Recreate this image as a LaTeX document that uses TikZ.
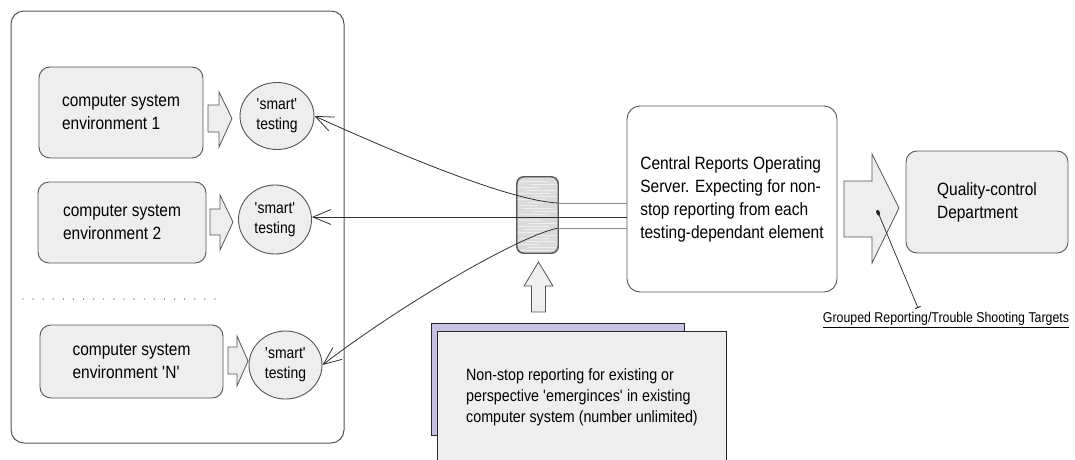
\documentclass[tikz,border=0pt]{standalone}
\usepackage{fontspec}
\setmainfont{Liberation Sans}[FakeStretch=0.87]
\usetikzlibrary{arrows.meta,shapes.geometric}
\definecolor{boxfill}{HTML}{EEEEEE}
\definecolor{edge}{HTML}{555555}
\definecolor{lav}{HTML}{C9C1E3}
\definecolor{hubfill}{HTML}{DADADA}
\definecolor{wire}{HTML}{303030}
\definecolor{busline}{HTML}{8C8C8C}

\tikzset{
  mainfont/.style={font=\fontsize{17.8}{23}\selectfont},
  envbox/.style={draw=edge, fill=boxfill, line width=0.9pt, rounded corners=11pt,
                 align=left, inner sep=0pt, mainfont},
  tester/.style={ellipse, draw=edge, fill=boxfill, line width=0.9pt, inner sep=0pt,
                 align=center, font=\fontsize{16}{20}\selectfont},
  blockarrow/.style={draw=edge, fill=boxfill, line width=0.8pt, line join=miter},
  wireline/.style={draw=wire, line width=0.8pt},
  barb/.style={-{Straight Barb[length=18pt,width=15pt,line width=0.8pt]}},
  busgray/.style={draw=busline, line width=1pt},
  paper/.style={draw=black!85, line width=0.9pt, inner sep=0pt}
}

\begin{document}
\begin{tikzpicture}[x=1pt,y=-1pt]
\useasboundingbox (0,0) rectangle (1075,459);
\clip (0,0) rectangle (1075,459);
\fill[white] (0,0) rectangle (1075,459);

% panel holding the tested environments
\draw[draw=edge, line width=1pt, rounded corners=13pt] (11,11) rectangle (344,443);

% computer system environments
\node[envbox, minimum width=164pt, minimum height=91pt] (env1) at (121,112.5)
  {computer system\\environment 1};
\node[envbox, minimum width=168pt, minimum height=81pt] (env2) at (122,222.5)
  {computer system\\environment 2};
\node[envbox, minimum width=183pt, minimum height=73pt] (envN) at (131.5,361.5)
  {computer system\\environment \textquotesingle N\textquotesingle};

% row of dots between environment 2 and environment N
\draw[line width=1.3pt, line cap=round, dash pattern=on 0pt off 10.1pt, draw=black!70]
  (23,299) -- (225,299);

% 'smart' testing units
\node[tester, minimum width=74pt, minimum height=67pt] (t1) at (277,116)
  {\textquotesingle smart\textquotesingle\\testing};
\node[tester, minimum width=73pt, minimum height=69pt] (t2) at (275,219.5)
  {\textquotesingle smart\textquotesingle\\testing};
\node[tester, minimum width=73pt, minimum height=68pt] (t3) at (285.5,365)
  {\textquotesingle smart\textquotesingle\\testing};

% block arrows from each environment to its tester
\draw[blockarrow] (208,105) -- (219,105) -- (219,92) -- (232,118.5) -- (219,147)
  -- (219,132) -- (208,132) -- cycle;
\draw[blockarrow] (210,209) -- (220,209) -- (220,195) -- (233,222) -- (220,250)
  -- (220,235) -- (210,235) -- cycle;
\draw[blockarrow] (228,347) -- (237,347) -- (237,336) -- (248,361) -- (237,386)
  -- (237,374) -- (228,374) -- cycle;

% central reports server
\node[draw=edge, fill=white, line width=0.9pt, rounded corners=13pt, mainfont,
      align=left, inner sep=0pt, minimum width=210pt, minimum height=186pt]
  (server) at (732,199)
  {Central Reports Operating\\Server. Expecting for non-\\stop reporting from each\\testing-dependant element};

% hub that gathers the reporting lines, with a mottled grey finish
\node[draw=edge, fill=hubfill, line width=0.9pt, rounded corners=7pt,
      minimum width=41pt, minimum height=76pt, inner sep=0pt] (hub) at (537.5,215) {};
\begin{scope}
  \clip[rounded corners=7pt] (hub.south west) rectangle (hub.north east);
  \foreach \yy/\a/\b in {181/520/548, 184/530/556, 187/518/540, 190/525/557,
      193/519/550, 196/532/556, 199/518/545, 202/527/557, 205/519/538, 208/522/553,
      211/533/557, 214/518/546, 217/526/556, 220/519/541, 223/529/557, 226/518/549,
      229/524/552, 232/518/543, 235/530/557, 238/520/550, 241/526/555, 244/518/539,
      247/528/556, 250/520/548}
    \draw[white, line width=0.6pt, opacity=0.55] (\a,\yy) -- (\b,\yy);
\end{scope}
\draw[draw=edge, line width=0.9pt, rounded corners=7pt] (hub.south west) rectangle (hub.north east);

% reporting lines between the server and the testers
\coordinate (s1) at ([yshift=-4pt]server.west);
\coordinate (s2) at ([yshift=-18pt]server.west);
\coordinate (s3) at ([yshift=-29pt]server.west);
\coordinate (h1) at (hub.east |- s1);
\coordinate (h3) at (hub.east |- s3);
\draw[busgray] (s1) -- (h1);
\draw[busgray] (s3) -- (h3);
\draw[wireline, barb] (h1) .. controls +(-48,-2) and +(86,39) .. (t1.east);
\draw[wireline, barb] (s2) -- (t2.east |- s2);
\draw[wireline, barb] (h3) .. controls +(-38,7) and +(78,-60) .. (t3.east);

% feed arrow into the hub
\draw[blockarrow] (531.5,312) -- (531.5,286) -- (524,286) -- (538.5,262) -- (553,286)
  -- (545.5,286) -- (545.5,312) -- cycle;

% stacked sheets describing the reporting
\node[paper, fill=lav, minimum width=253pt, minimum height=112pt, anchor=north west]
  (noteback) at (431,323) {};
\node[paper, fill=boxfill, minimum width=289pt, minimum height=132pt, anchor=north west,
      align=left, font=\fontsize{16.4}{20.8}\selectfont]
  (note) at (437,331)
  {Non-stop reporting for existing or\\perspective \textquotesingle emerginces\textquotesingle{} in existing\\computer system (number unlimited)};

% output arrow and quality-control department
\draw[blockarrow] (844,181) -- (872,181) -- (872,154) -- (899,208) -- (872,263)
  -- (872,237) -- (844,237) -- cycle;
\node[envbox, minimum width=162pt, minimum height=102pt] (qc) at (987,202)
  {Quality-control\\Department};

% callout naming the output targets
\coordinate (cpt) at (877,210);
\coordinate (ctick) at (918,308);
\node[font=\fontsize{14.2}{17}\selectfont, inner sep=0pt] (grp) at (946,320)
  {\underline{Grouped Reporting/Trouble Shooting Targets}};
\draw[draw=black!85, line width=0.7pt,
      {Ellipse[length=6pt,width=3.5pt]}-{Bar[width=6pt,line width=1pt]}] (cpt) -- (ctick);
\end{tikzpicture}
\end{document}
